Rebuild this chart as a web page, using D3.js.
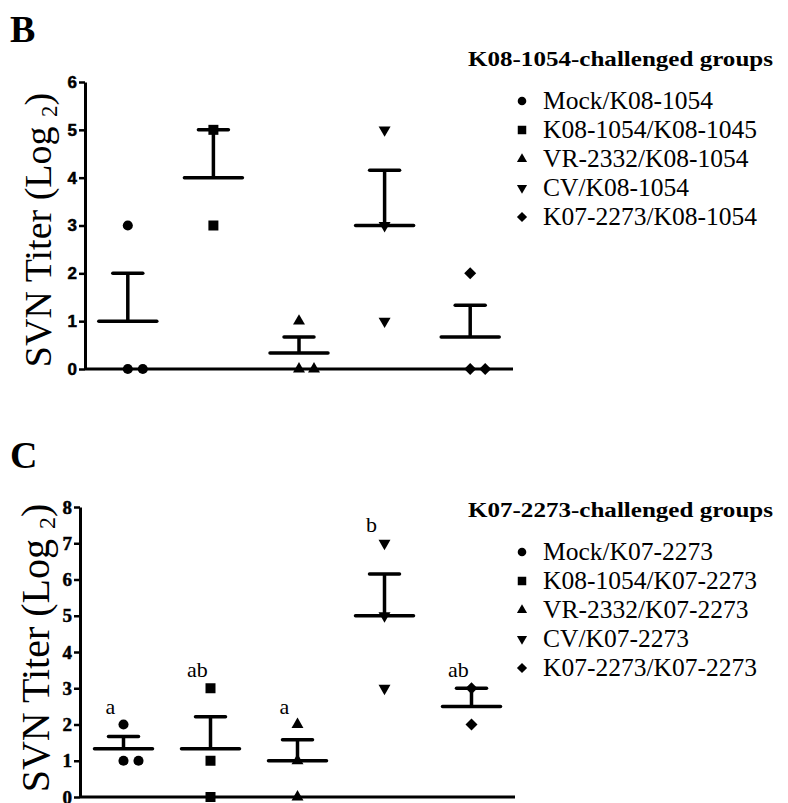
<!DOCTYPE html>
<html>
<head>
<meta charset="utf-8">
<script src="https://cdn.jsdelivr.net/npm/d3@7"></script>
<style>
  body { margin: 0; background: #fff; }
  svg { display: block; }
</style>
</head>
<body>
<svg id="chart" width="788" height="803"></svg>
<script>
const groupsB = ['Mock/K08-1054', 'K08-1054/K08-1045', 'VR-2332/K08-1054', 'CV/K08-1054', 'K07-2273/K08-1054'];
const valuesB = [[3, 0, 0], [5, 3], [1, 0, 0], [5, 3, 1], [2, 0, 0]];
const ticksB = [0, 1, 2, 3, 4, 5, 6];

const groupsC = ['Mock/K07-2273', 'K08-1054/K07-2273', 'VR-2332/K07-2273', 'CV/K07-2273', 'K07-2273/K07-2273'];
const valuesC = [[2, 1, 1], [3, 1, 0], [2, 1, 0], [7, 5, 3], [3, 2]];
const ticksC = [0, 1, 2, 3, 4, 5, 6, 7, 8];
const lettersC = ['a', 'ab', 'a', 'b', 'ab'];

const shapes = ['circle', 'square', 'triangle', 'down', 'diamond'];

const svg = d3.select('#chart');
const serif = '"Liberation Serif", "Times New Roman", serif';
const sans = '"Liberation Sans", Arial, sans-serif';


function markerPath(shape, scale) {
    const s = scale || 1;
    if (shape === 'circle') return d3.symbol(d3.symbolCircle, 80 * s * s)();
    if (shape === 'square') return d3.symbol(d3.symbolSquare, 100 * s * s)();
    if (shape === 'triangle' || shape === 'down') return d3.symbol(d3.symbolTriangle, 62 * s * s)();
    return d3.symbol(d3.symbolSquare, 72 * s * s)();
}

function markerRotate(shape) {
    if (shape === 'down') return 180;
    if (shape === 'diamond') return 45;
    return 0;
}


function drawPanel(opt) {
    const g = svg.append('g');
    const x = d3.scalePoint().domain(opt.groups).range(opt.xRange).padding(0.5);
    const y = d3.scaleLinear().domain([0, opt.ticks[opt.ticks.length - 1]]).range(opt.yRange);

    // y axis
    const axis = g.append('g')
        .attr('transform', 'translate(' + opt.xRange[0] + ',0)')
        .call(d3.axisLeft(y).tickValues(opt.ticks).tickFormat(d3.format('d')).tickSize(6).tickSizeOuter(0).tickPadding(2));
    axis.attr('font-family', opt.tickFont).attr('font-size', opt.tickSize).attr('font-weight', 'bold');
    axis.select('.domain').attr('stroke-width', 3);
    axis.selectAll('.tick line').attr('stroke-width', 2.5);
    axis.selectAll('.tick text')
        .attr('fill', '#000')
        .attr('stroke', '#000')
        .attr('stroke-width', 0.5);

    // x axis line
    g.append('line')
        .attr('x1', opt.xRange[0])
        .attr('x2', opt.xRange[1])
        .attr('y1', y(0))
        .attr('y2', y(0))
        .attr('stroke', '#000')
        .attr('stroke-width', 3);

    // y axis title
    const yt = g.append('text')
        .attr('transform', 'translate(' + opt.titleX + ',' + opt.titleY + ') rotate(-90)')
        .attr('text-anchor', 'middle')
        .style('font-family', serif)
        .style('font-size', opt.titleSize + 'px');
    yt.append('tspan').text('SVN Titer (Log ');
    yt.append('tspan').attr('dy', 6).style('font-size', (opt.titleSize * 0.6) + 'px').text('2');
    yt.append('tspan').attr('dy', -6).text(')');

    // mean and SEM
    opt.values.forEach(function (vals, i) {
        const cx = x(opt.groups[i]);
        const mean = d3.mean(vals);
        const sem = d3.deviation(vals) / Math.sqrt(vals.length);

        g.append('line')
            .attr('x1', cx).attr('x2', cx)
            .attr('y1', y(mean)).attr('y2', y(mean + sem))
            .attr('stroke', '#000').attr('stroke-width', 3.5);
        g.append('line')
            .attr('x1', cx - 15).attr('x2', cx + 15)
            .attr('y1', y(mean + sem)).attr('y2', y(mean + sem))
            .attr('stroke', '#000').attr('stroke-width', 3.5).attr('stroke-linecap', 'round');
        g.append('line')
            .attr('x1', cx - 29).attr('x2', cx + 29)
            .attr('y1', y(mean)).attr('y2', y(mean))
            .attr('stroke', '#000').attr('stroke-width', 3.5).attr('stroke-linecap', 'round');

        // points, repeated values side by side
        const seen = {};
        vals.forEach(function (v) {
            const k = seen[v] || 0;
            seen[v] = k + 1;
            g.append('path')
                .attr('d', markerPath(shapes[i]))
                .attr('transform', 'translate(' + (cx + k * 15) + ',' + y(v) + ') rotate(' + markerRotate(shapes[i]) + ')')
                .attr('fill', '#000');
        });

        if (opt.letters) {
            g.append('text')
                .attr('x', cx - 13)
                .attr('y', y(d3.max(vals)) - 11)
                .attr('text-anchor', 'middle')
                .style('font-family', serif)
                .style('font-size', '22px')
                .text(opt.letters[i]);
        }
    });

    // panel letter
    g.append('text')
        .attr('x', 10)
        .attr('y', opt.letterY)
        .style('font-family', serif)
        .style('font-weight', 'bold')
        .style('font-size', '38px')
        .text(opt.panel);

    // legend
    g.append('text')
        .attr('x', 468)
        .attr('y', opt.legendY)
        .style('font-family', serif)
        .style('font-weight', 'bold')
        .style('font-size', '22px')
        .attr('textLength', 305)
        .attr('lengthAdjust', 'spacingAndGlyphs')
        .text(opt.legendTitle);

    const items = g.selectAll('.item')
        .data(opt.groups)
        .enter()
        .append('g')
        .attr('class', 'item')
        .attr('transform', (d, i) => 'translate(522,' + (opt.legendY + 35 + i * 29) + ')');

    items.append('path')
        .attr('d', (d, i) => markerPath(shapes[i], 0.85))
        .attr('transform', (d, i) => 'rotate(' + markerRotate(shapes[i]) + ')')
        .attr('fill', '#000');

    items.append('text')
        .attr('x', 21)
        .attr('dy', 8)
        .style('font-family', serif)
        .style('font-size', '25.5px')
        .text(d => d);
}

drawPanel({
    panel: 'B', letterY: 42,
    groups: groupsB, values: valuesB, ticks: ticksB,
    xRange: [85, 513], yRange: [369, 82],
    tickFont: sans, tickSize: 17,
    titleX: 51, titleY: 230, titleSize: 38,
    legendTitle: 'K08-1054-challenged groups', legendY: 66
});

drawPanel({
    panel: 'C', letterY: 468,
    groups: groupsC, values: valuesC, ticks: ticksC, letters: lettersC,
    xRange: [80, 515], yRange: [797, 507],
    tickFont: serif, tickSize: 19,
    titleX: 49, titleY: 648, titleSize: 40,
    legendTitle: 'K07-2273-challenged groups', legendY: 517
});
</script>
</body>
</html>
